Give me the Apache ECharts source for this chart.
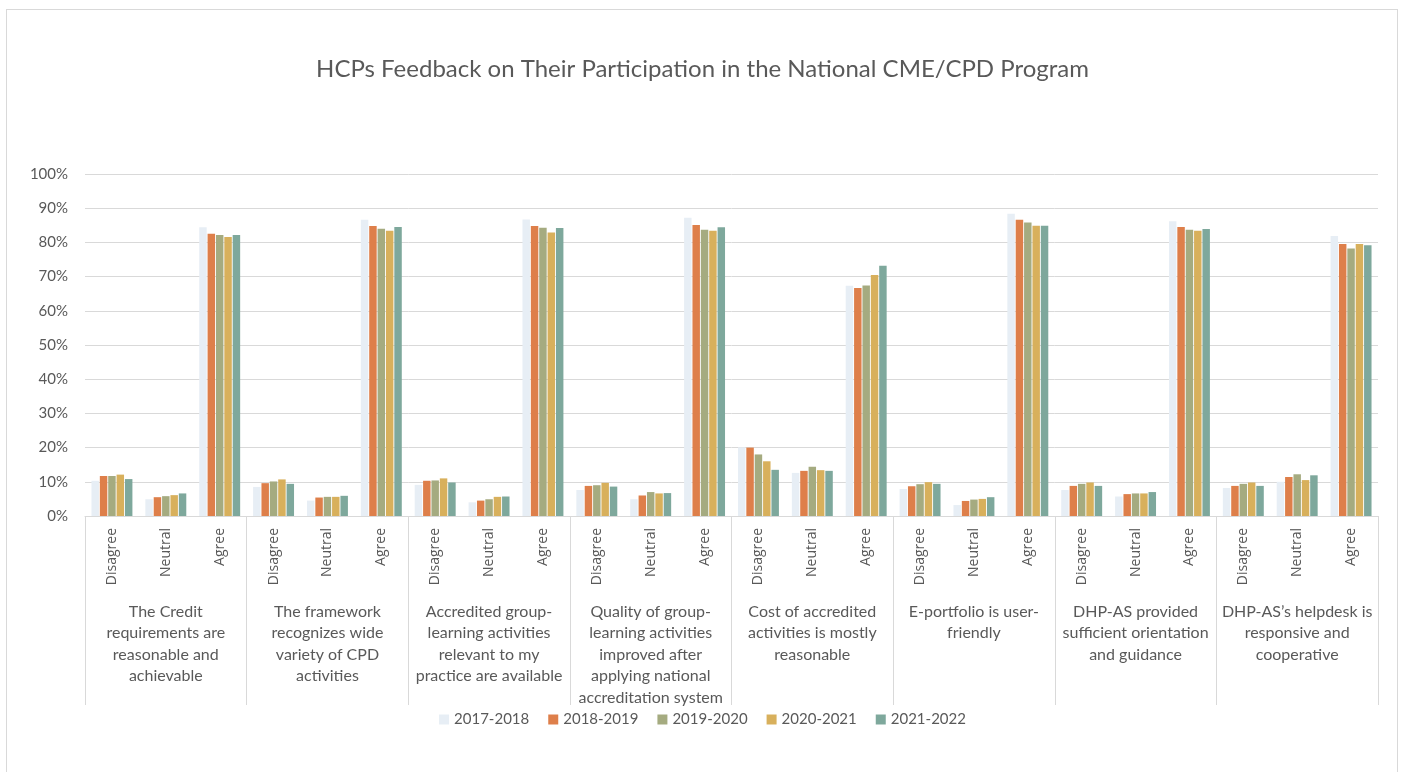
<!DOCTYPE html>
<html>
<head>
<meta charset="utf-8">
<script src="https://cdn.jsdelivr.net/npm/echarts@6/dist/echarts.min.js"></script>
<style>
  html, body { margin: 0; padding: 0; background: #fff; }
  #frame { position: absolute; left: 6px; top: 9px; width: 1392px; height: 770px; border: 1px solid #d9d9d9; box-sizing: border-box; }
  #main { position: absolute; left: 0; top: 0; width: 1405px; height: 772px; }
</style>
</head>
<body>
<div id="frame"></div>
<div id="main"></div>
<script>
// answer levels repeated under each statement
var answers = ['Disagree', 'Neutral', 'Agree'];

// statements (line breaks as in the reference)
var statements = [
  'The Credit\nrequirements are\nreasonable and\nachievable',
  'The framework\nrecognizes wide\nvariety of CPD\nactivities',
  'Accredited group-\nlearning activities\nrelevant to my\npractice are available',
  'Quality of group-\nlearning activities\nimproved after\napplying national\naccreditation system',
  'Cost of accredited\nactivities is mostly\nreasonable',
  'E-portfolio is user-\nfriendly',
  'DHP-AS provided\nsufficient orientation\nand guidance',
  'DHP-AS\u2019s helpdesk is\nresponsive and\ncooperative'
];

var years = ['2017-2018', '2018-2019', '2019-2020', '2020-2021', '2021-2022'];

// percentages, 3 values (Disagree, Neutral, Agree) per statement
var y2017 = [10.3, 4.9, 84.4,  8.5, 4.5, 86.6,  9.1, 4.0, 86.7,  7.6, 4.9, 87.2,
             20.1, 12.6, 67.3,  7.9, 3.2, 88.4,  7.6, 5.7, 86.2,  8.2, 10.0, 81.9];
var y2018 = [11.7, 5.5, 82.5,  9.6, 5.4, 84.8,  10.3, 4.5, 84.8,  8.8, 6.0, 85.1,
             20.0, 13.2, 66.7,  8.7, 4.4, 86.6,  8.8, 6.4, 84.5,  8.8, 11.4, 79.5];
var y2019 = [11.7, 5.8, 82.2,  10.1, 5.6, 84.0,  10.4, 4.9, 84.3,  9.0, 7.0, 83.7,
             18.0, 14.4, 67.4,  9.3, 4.8, 85.8,  9.4, 6.6, 83.7,  9.4, 12.2, 78.2];
var y2020 = [12.1, 6.1, 81.6,  10.7, 5.6, 83.4,  11.0, 5.6, 82.9,  9.7, 6.6, 83.4,
             16.0, 13.4, 70.5,  9.9, 5.0, 84.9,  9.8, 6.6, 83.4,  9.8, 10.5, 79.5];
var y2021 = [10.8, 6.6, 82.2,  9.4, 5.9, 84.5,  9.8, 5.7, 84.2,  8.6, 6.7, 84.4,
             13.5, 13.2, 73.2,  9.4, 5.5, 84.9,  8.8, 7.0, 83.9,  8.8, 11.9, 79.2];

var seriesData = [y2017, y2018, y2019, y2020, y2021];
var colors = ['#e7eef5', '#de7f4a', '#a5ab80', '#d8b05c', '#7ea89c'];

var subCats = [];
statements.forEach(function () { subCats = subCats.concat(answers); });

var txt = '#595959';
var line = '#d9d9d9';

var myChart = echarts.init(document.getElementById('main'));
myChart.setOption({
  animation: false,
  color: colors,
  title: {
    text: 'HCPs Feedback on Their Participation in the National CME/CPD Program',
    left: 'center',
    top: 52,
    textStyle: { fontFamily: 'Lato', fontSize: 24, fontWeight: 'normal', color: txt }
  },
  legend: {
    bottom: 40,
    left: 'center',
    itemWidth: 10,
    itemHeight: 10,
    itemGap: 19,
    icon: 'rect',
    textStyle: { fontFamily: 'Lato', fontSize: 15, color: txt },
    data: years
  },
  grid: { left: 85, right: 27, top: 174, bottom: 256, containLabel: false },
  xAxis: [{
    type: 'category',
    data: subCats,
    axisLine: { lineStyle: { color: line } },
    axisTick: { show: false },
    axisLabel: {
      rotate: 90, margin: 12, interval: 0,
      fontFamily: 'Open Sans', fontSize: 14, color: txt
    }
  }, {
    type: 'category',
    data: statements,
    position: 'bottom',
    axisLine: { show: false },
    axisTick: { show: true, length: 189, lineStyle: { color: line } },
    axisLabel: {
      margin: 85, interval: 0, lineHeight: 21.5,
      fontFamily: 'Lato', fontSize: 16, color: txt, align: 'center'
    }
  }],
  yAxis: {
    type: 'value',
    min: 0, max: 100, interval: 10,
    axisLine: { show: false },
    axisTick: { show: false },
    splitLine: { lineStyle: { color: line } },
    axisLabel: { formatter: '{value}%', margin: 17, fontFamily: 'Lato', fontSize: 15, color: txt }
  },
  series: years.map(function (y, i) {
    return {
      name: y,
      type: 'bar',
      data: seriesData[i],
      barGap: '12%',
      barCategoryGap: '24%',
      itemStyle: { color: colors[i] }
    };
  })
});
</script>
</body>
</html>
